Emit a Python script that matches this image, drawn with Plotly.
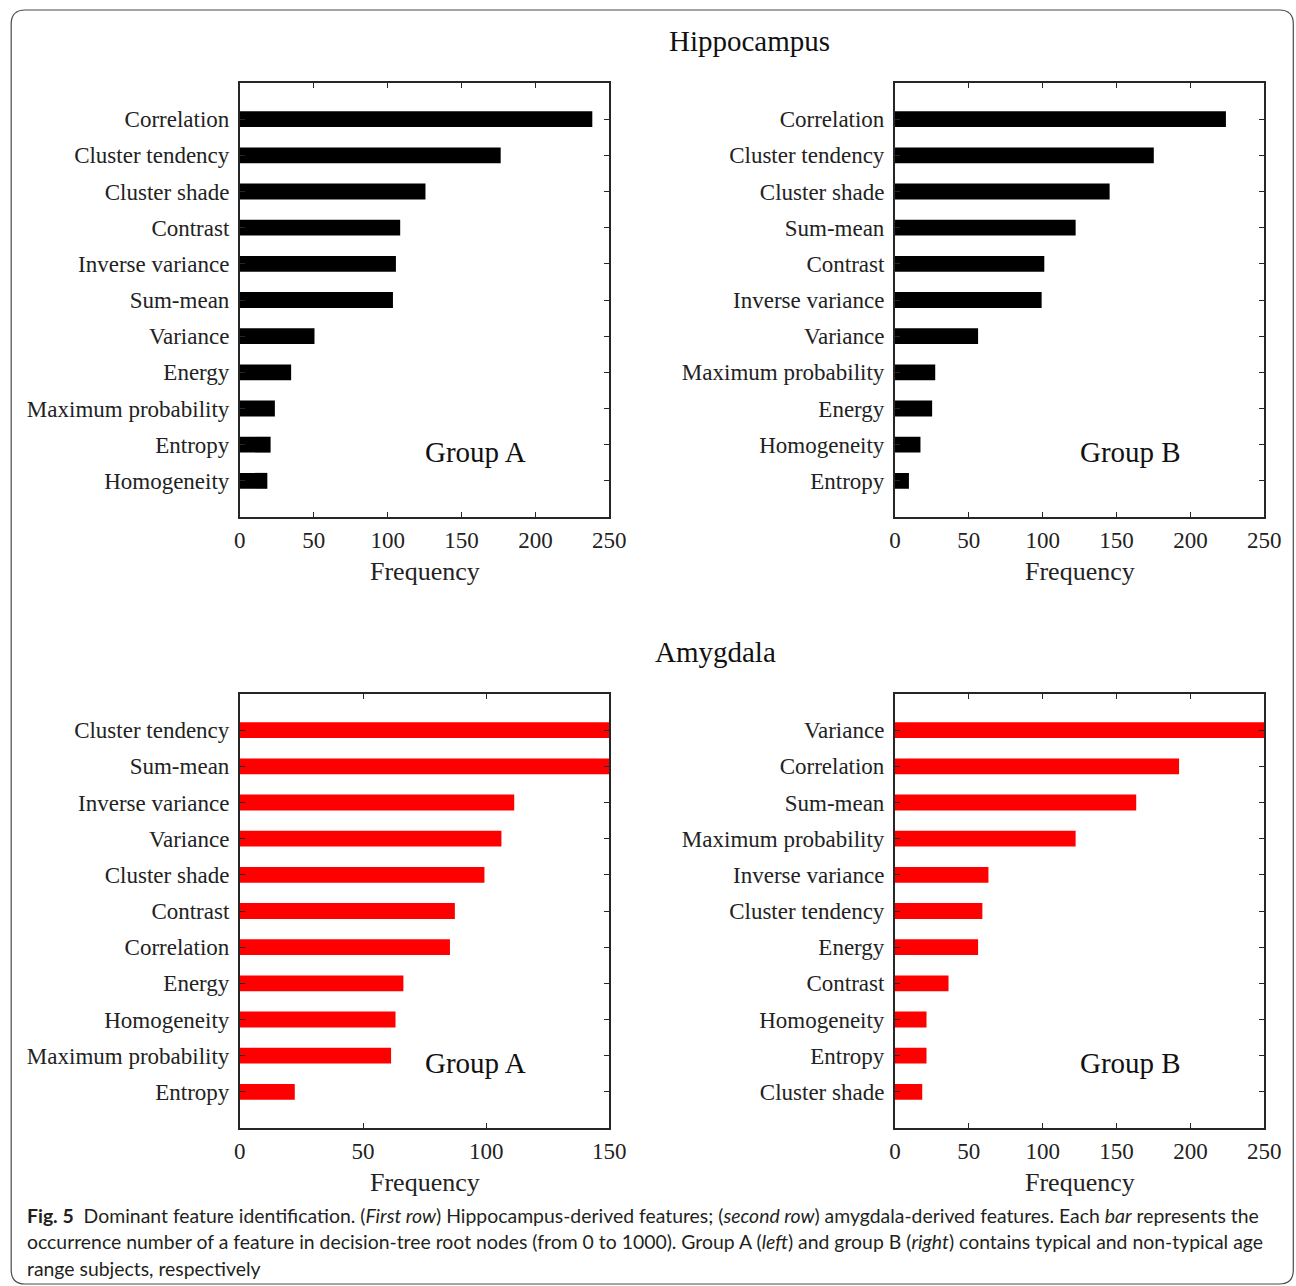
import plotly.graph_objects as go

# ---------------- data ----------------
hip_a_labels = ["Correlation", "Cluster tendency", "Cluster shade", "Contrast", "Inverse variance",
                "Sum-mean", "Variance", "Energy", "Maximum probability", "Entropy", "Homogeneity"]
hip_a_values = [238.5, 176.5, 125.6, 108.5, 105.6, 103.6, 50.5, 34.7, 23.7, 20.8, 18.6]

hip_b_labels = ["Correlation", "Cluster tendency", "Cluster shade", "Sum-mean", "Contrast",
                "Inverse variance", "Variance", "Maximum probability", "Energy", "Homogeneity", "Entropy"]
hip_b_values = [224.0, 175.2, 145.3, 122.3, 101.1, 99.3, 56.3, 27.3, 25.2, 17.3, 9.5]

amy_a_labels = ["Cluster tendency", "Sum-mean", "Inverse variance", "Variance", "Cluster shade",
                "Contrast", "Correlation", "Energy", "Homogeneity", "Maximum probability", "Entropy"]
amy_a_values = [160, 155, 111.4, 106.2, 99.3, 87.3, 85.3, 66.4, 63.2, 61.4, 22.3]

amy_b_labels = ["Variance", "Correlation", "Sum-mean", "Maximum probability", "Inverse variance",
                "Cluster tendency", "Energy", "Contrast", "Homogeneity", "Entropy", "Cluster shade"]
amy_b_values = [265, 192.3, 163.3, 122.3, 63.3, 59.2, 56.3, 36.3, 21.4, 21.4, 18.5]

ticks_250 = [0, 50, 100, 150, 200, 250]
ticks_150 = [0, 50, 100, 150]

W, H = 1318, 1286
SERIF = "Liberation Serif, Times New Roman, serif"
AX = "#262626"

def px(x):
    # horizontal position in paper units (compensating the page's horizontal fit)
    return ((x - 4.8) / 0.984) / W

def py(y):
    return 1 - y / H

panels = [
    dict(labels=hip_a_labels, values=hip_a_values, color="#000000", xr=[0, 250], ticks=ticks_250,
         box=(239, 609, 83, 517), group="Group A"),
    dict(labels=hip_b_labels, values=hip_b_values, color="#000000", xr=[0, 250], ticks=ticks_250,
         box=(895, 1265, 83, 517), group="Group B"),
    dict(labels=amy_a_labels, values=amy_a_values, color="#ff0000", xr=[0, 150], ticks=ticks_150,
         box=(239, 609, 694, 1128), group="Group A"),
    dict(labels=amy_b_labels, values=amy_b_values, color="#ff0000", xr=[0, 250], ticks=ticks_250,
         box=(895, 1265, 694, 1128), group="Group B"),
]

fig = go.Figure()
annotations = []
layout_axes = {}

for i, p in enumerate(panels, start=1):
    xa = "x" if i == 1 else f"x{i}"
    ya = "y" if i == 1 else f"y{i}"
    fig.add_trace(go.Bar(
        x=p["values"], y=p["labels"], orientation="h",
        marker=dict(color=p["color"], line=dict(width=0)),
        width=0.44, xaxis=xa, yaxis=ya, showlegend=False, hoverinfo="x+y",
    ))
    x0, x1, y0, y1 = p["box"]
    common = dict(showline=True, linecolor=AX, linewidth=1.8, mirror="ticks", ticks="inside",
                  ticklen=5, tickwidth=1.4, tickcolor=AX, showgrid=False, zeroline=False,
                  tickfont=dict(family=SERIF, size=23, color="#222"))
    layout_axes["xaxis" if i == 1 else f"xaxis{i}"] = dict(
        common, domain=[px(x0), px(x1)], range=p["xr"], tickvals=p["ticks"],
        anchor=ya, fixedrange=True, ticklabelstandoff=1)
    layout_axes["yaxis" if i == 1 else f"yaxis{i}"] = dict(
        common, domain=[py(y1), py(y0)], type="category",
        categoryorder="array", categoryarray=list(reversed(p["labels"])),
        range=[-1, 11], anchor=xa, fixedrange=True, ticklabelstandoff=4)
    annotations.append(dict(text="Frequency", x=px((x0 + x1) / 2), y=py(y1 + 54),
                            xref="paper", yref="paper", showarrow=False,
                            font=dict(family=SERIF, size=26, color="#222"),
                            xanchor="center", yanchor="middle"))
    annotations.append(dict(text=p["group"], x=px(x0 + 236), y=py(y0 + 369),
                            xref="paper", yref="paper", showarrow=False,
                            font=dict(family=SERIF, size=29, color="#111"),
                            xanchor="center", yanchor="middle"))

annotations.append(dict(text="Hippocampus", x=px(749), y=py(41), xref="paper", yref="paper",
                        showarrow=False, font=dict(family=SERIF, size=29, color="#111"),
                        xanchor="center", yanchor="middle"))
annotations.append(dict(text="Amygdala", x=px(715), y=py(652), xref="paper", yref="paper",
                        showarrow=False, font=dict(family=SERIF, size=29, color="#111"),
                        xanchor="center", yanchor="middle"))

CAP = "Lato, Open Sans, sans-serif"
caption_lines = [
    "<b>Fig. 5</b>  Dominant feature identification. (<i>First row</i>) Hippocampus-derived features; "
    "(<i>second row</i>) amygdala-derived features. Each <i>bar</i> represents the",
    "occurrence number of a feature in decision-tree root nodes (from 0 to 1000). Group A (<i>left</i>) "
    "and group B (<i>right</i>) contains typical and non-typical age",
    "range subjects, respectively",
]
for k, line in enumerate(caption_lines):
    annotations.append(dict(text=line, x=px(23.5), y=py(1215 + 26.5 * k), xref="paper", yref="paper",
                            showarrow=False, font=dict(family=CAP, size=19.4, color="#231f20"),
                            xanchor="left", yanchor="middle"))

r = 14
fx0, fx1, fy0, fy1 = 10, 1294, 10, 1284
path = (f"M {px(fx0)},{py(fy1 - r)} L {px(fx0)},{py(fy0 + r)} Q {px(fx0)},{py(fy0)} {px(fx0 + r)},{py(fy0)} "
        f"L {px(fx1 - r)},{py(fy0)} Q {px(fx1)},{py(fy0)} {px(fx1)},{py(fy0 + r)} "
        f"L {px(fx1)},{py(fy1 - r)} Q {px(fx1)},{py(fy1)} {px(fx1 - r)},{py(fy1)} "
        f"L {px(fx0 + r)},{py(fy1)} Q {px(fx0)},{py(fy1)} {px(fx0)},{py(fy1 - r)} Z")

fig.update_layout(
    width=W, height=H, autosize=False, margin=dict(l=0, r=0, t=0, b=0),
    paper_bgcolor="white", plot_bgcolor="white",
    annotations=annotations,
    shapes=[dict(type="path", path=path, xref="paper", yref="paper",
                 line=dict(color="#4a4a4a", width=1.2), layer="below")],
    bargap=0.5,
    **layout_axes,
)

fig.write_html("out.html", config={"displayModeBar": False, "responsive": False})
